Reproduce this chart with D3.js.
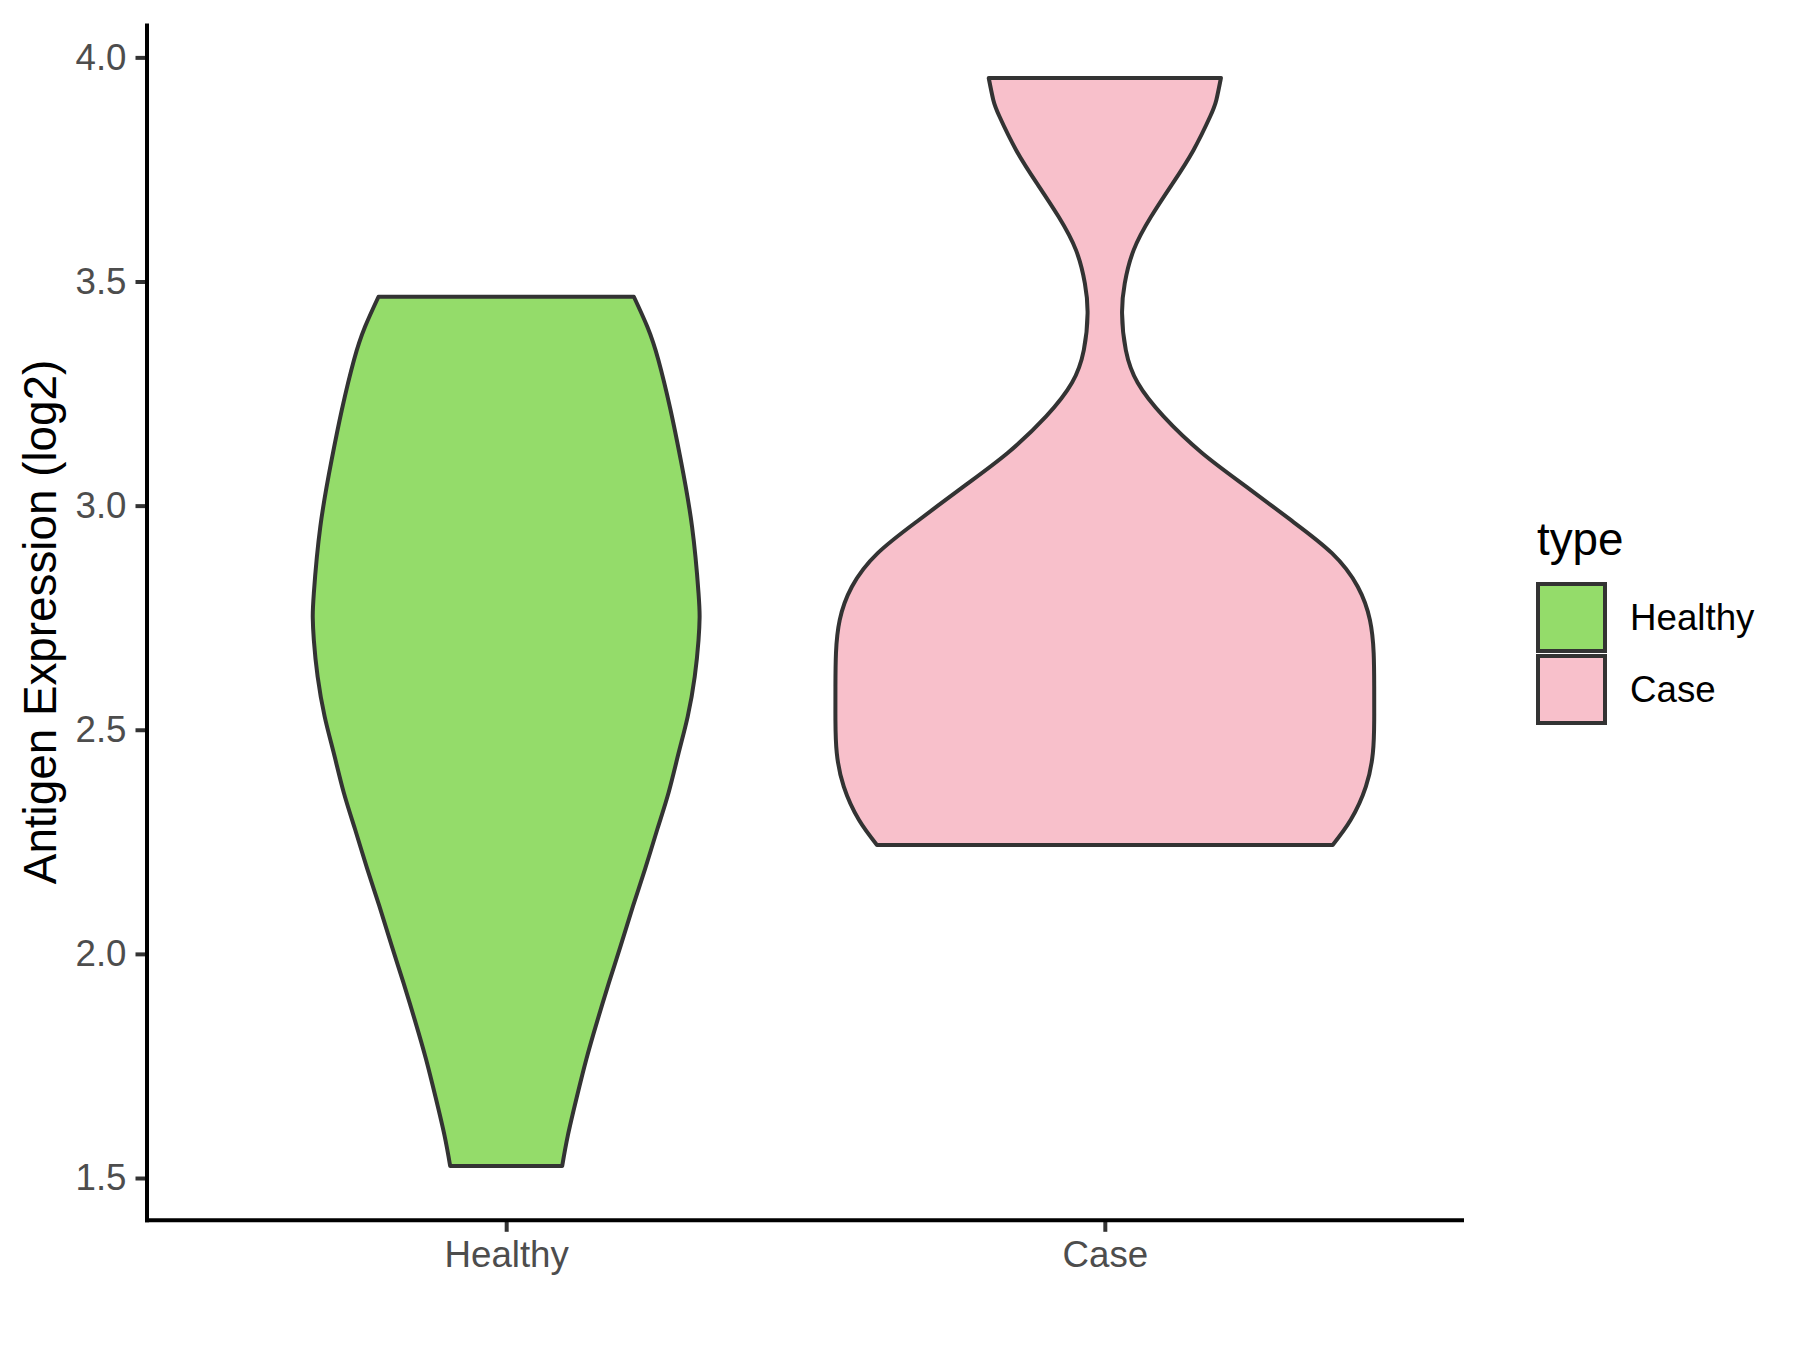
<!DOCTYPE html>
<html>
<head>
<meta charset="utf-8">
<script src="https://cdn.jsdelivr.net/npm/d3@7"></script>
<style>
  body { margin: 0; background: #fff; }
  text { font-family: "Liberation Sans", Arial, sans-serif; }
</style>
</head>
<body>
<script>
  // categories and colours
  let categories = ["Healthy", "Case"];
  let fills = ["#94DC6A", "#F8C0CB"];

  // violin outlines: expression value and relative density (1 = widest violin)
  let healthyValue = [1.527, 1.595, 1.68, 1.766, 1.85, 1.937, 2.02, 2.107, 2.19, 2.278, 2.36, 2.448, 2.53, 2.619, 2.70, 2.75, 2.805, 2.953, 3.102, 3.214, 3.325, 3.399, 3.466];
  let healthyDensity = [0.208, 0.229, 0.262, 0.298, 0.338, 0.382, 0.426, 0.471, 0.516, 0.561, 0.603, 0.640, 0.674, 0.700, 0.714, 0.718, 0.714, 0.690, 0.648, 0.610, 0.565, 0.524, 0.474];

  let caseValue = [2.243, 2.299, 2.373, 2.448, 2.522, 2.596, 2.671, 2.745, 2.819, 2.894, 2.968, 3.042, 3.117, 3.199, 3.274, 3.347, 3.429, 3.496, 3.570, 3.645, 3.719, 3.793, 3.868, 3.905, 3.954];
  let caseDensity = [0.846, 0.913, 0.969, 0.995, 1.0, 1.0, 0.998, 0.984, 0.939, 0.843, 0.690, 0.526, 0.362, 0.218, 0.122, 0.078, 0.064, 0.074, 0.107, 0.172, 0.252, 0.329, 0.391, 0.414, 0.431];

  let yTicks = [1.5, 2.0, 2.5, 3.0, 3.5, 4.0];

  let width = 1800, height = 1350;
  let panel = { left: 147, right: 1464, top: 23.6, bottom: 1220.3 };

  let svg = d3.select("body").append("svg")
    .attr("width", width)
    .attr("height", height);

  let series = [
    { name: "Healthy", value: healthyValue, density: healthyDensity },
    { name: "Case", value: caseValue, density: caseDensity }
  ];

  // y scale with ggplot style 5% expansion
  let allValues = healthyValue.concat(caseValue);
  let ext = d3.extent(allValues);
  let pad = (ext[1] - ext[0]) * 0.05;
  let yScale = d3.scaleLinear()
    .domain([ext[0] - pad, ext[1] + pad])
    .range([panel.bottom, panel.top]);

  let xScale = d3.scalePoint()
    .domain(categories)
    .range([panel.left, panel.right])
    .padding(0.6);

  let colour = d3.scaleOrdinal().domain(categories).range(fills);

  // widest violin takes 0.9 of the step
  let wScale = d3.scaleLinear().domain([0, 1]).range([0, xScale.step() * 0.45]);

  // violins
  series.forEach(function(s) {
    let pts = s.value.map((v, i) => ({ v: v, d: s.density[i] }));
    let cx = xScale(s.name);
    let area = d3.area()
      .y((d) => yScale(d.v))
      .x0((d) => cx - wScale(d.d))
      .x1((d) => cx + wScale(d.d))
      .curve(d3.curveNatural);
    svg.append("path")
      .datum(pts)
      .attr("d", area)
      .attr("fill", colour(s.name))
      .attr("stroke", "#333333")
      .attr("stroke-width", 4)
      .attr("stroke-linejoin", "round");
  });

  // y axis
  let yAxis = d3.axisLeft(yScale)
    .tickValues(yTicks)
    .tickFormat(d3.format(".1f"))
    .tickSizeOuter(0)
    .tickSize(11.5)
    .tickPadding(9);
  let gy = svg.append("g")
    .attr("transform", "translate(" + panel.left + ",0)")
    .call(yAxis);
  gy.select(".domain").remove();
  gy.selectAll(".tick line").attr("stroke", "#333333").attr("stroke-width", 4);
  gy.selectAll(".tick text")
    .attr("fill", "#4D4D4D")
    .style("font-size", "36.7px")
    .attr("font-family", null);

  // x axis
  let xAxis = d3.axisBottom(xScale)
    .tickSizeOuter(0)
    .tickSize(11.5)
    .tickPadding(9);
  let gx = svg.append("g")
    .attr("transform", "translate(0," + panel.bottom + ")")
    .call(xAxis);
  gx.select(".domain").remove();
  gx.selectAll(".tick line").attr("stroke", "#333333").attr("stroke-width", 4);
  gx.selectAll(".tick text")
    .attr("fill", "#4D4D4D")
    .style("font-size", "36.7px")
    .attr("font-family", null);

  // axis lines
  svg.append("line")
    .attr("x1", panel.left).attr("x2", panel.left)
    .attr("y1", panel.top).attr("y2", panel.bottom + 2)
    .attr("stroke", "#000").attr("stroke-width", 4);
  svg.append("line")
    .attr("x1", panel.left - 2).attr("x2", panel.right)
    .attr("y1", panel.bottom).attr("y2", panel.bottom)
    .attr("stroke", "#000").attr("stroke-width", 4);

  // y axis title
  svg.append("text")
    .attr("transform", "translate(56," + ((panel.top + panel.bottom) / 2) + ") rotate(-90)")
    .attr("text-anchor", "middle")
    .style("font-size", "45.8px")
    .attr("fill", "#000")
    .text("Antigen Expression (log2)");

  // legend
  let legend = svg.append("g").attr("transform", "translate(1538,0)");
  legend.append("text")
    .attr("x", -1)
    .attr("y", 555)
    .style("font-size", "45.8px")
    .attr("fill", "#000")
    .text("type");

  let keyTop = 584, keySize = 67, keyGap = 5;
  categories.forEach(function(c, i) {
    let y0 = keyTop + i * (keySize + keyGap);
    legend.append("rect")
      .attr("x", 0)
      .attr("y", y0)
      .attr("width", keySize)
      .attr("height", keySize)
      .attr("fill", colour(c))
      .attr("stroke", "#333333")
      .attr("stroke-width", 4);
    legend.append("text")
      .attr("x", 92)
      .attr("y", y0 + keySize / 2)
      .attr("dy", "0.35em")
      .style("font-size", "36.7px")
      .attr("fill", "#000")
      .text(c);
  });
</script>
</body>
</html>
